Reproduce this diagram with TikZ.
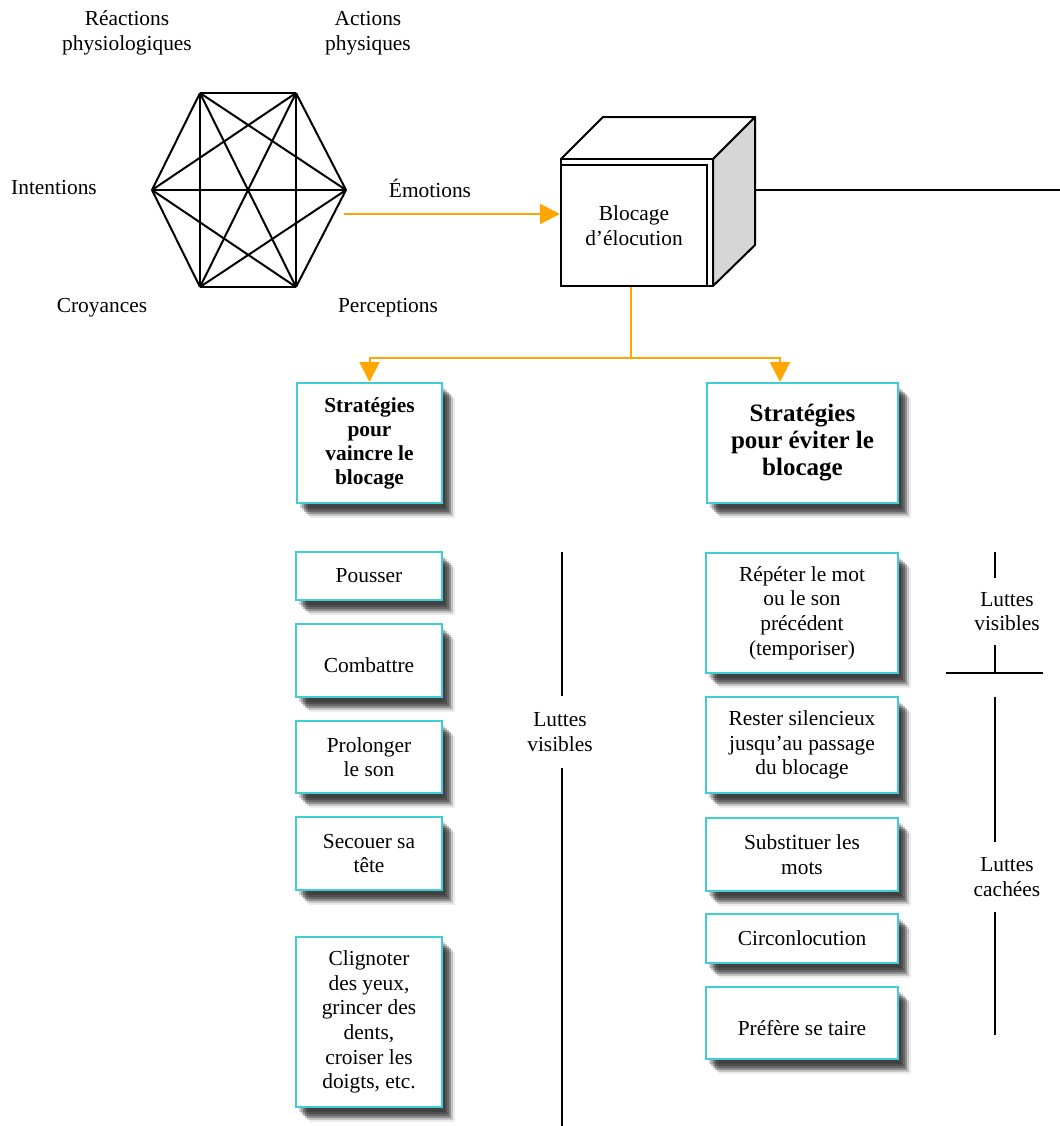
\documentclass[tikz,border=0pt]{standalone}
\usepackage{fontspec}
\setmainfont{Liberation Serif}
\usepackage{tikz}
\usetikzlibrary{positioning,arrows.meta,shadows,calc}
\definecolor{flowor}{RGB}{255,167,0}
\definecolor{boxcyan}{RGB}{62,206,212}
\tikzset{
  txt/.style={align=center, font=\fontsize{10.7}{12.3}\selectfont},
  trait/.style={line width=1pt, line join=round},
  tactic/.style={txt, draw=boxcyan, line width=1pt, fill=white, inner sep=2pt,
    drop shadow={shadow xshift=1.5pt, shadow yshift=-2.5pt, fill=black, opacity=.18},
    drop shadow={shadow xshift=2.5pt, shadow yshift=-3.5pt, fill=black, opacity=.22},
    drop shadow={shadow xshift=3.5pt, shadow yshift=-4.5pt, fill=black, opacity=.28},
    drop shadow={shadow xshift=4.5pt, shadow yshift=-5.5pt, fill=black, opacity=.28},
    drop shadow={shadow xshift=5.5pt, shadow yshift=-6.5pt, fill=black, opacity=.16},
    drop shadow={shadow xshift=6.5pt, shadow yshift=-7.5pt, fill=black, opacity=.08}},
  flow/.style={draw=flowor, line width=1pt, -{Triangle[length=10pt,width=10pt]}},
  flowline/.style={draw=flowor, line width=1pt}
}

\begin{document}
\begin{tikzpicture}[x=0.5pt,y=-0.5pt]
  \useasboundingbox (0,0) rectangle (1060,1126);
  % hexagone
  \coordinate (h1) at (200,93);
  \coordinate (h2) at (296,93);
  \coordinate (h3) at (346,190);
  \coordinate (h4) at (296,287);
  \coordinate (h5) at (200,287);
  \coordinate (h6) at (152,190);
  \foreach \i in {1,...,6}{\foreach \j in {1,...,6}{\ifnum\i<\j \draw[trait] (h\i) -- (h\j);\fi}}
  \node[txt] (reac) at (127,33) {Réactions\\physiologiques};
  \node[txt] (act) at (368,33) {Actions\\physiques};
  \node[txt] (inten) at (54,188) {Intentions};
  \node[txt] (emo) at (430,188) {Émotions};
  \node[txt] (croy) at (102,308) {Croyances};
  \node[txt] (perc) at (388,308) {Perceptions};
  % cube
  \draw[trait, fill=black!16] (713,159) -- (755,117) -- (755,245) -- (713,286) -- cycle;
  \draw[trait, fill=white] (561,159) -- (603,117) -- (755,117) -- (713,159) -- cycle;
  \draw[trait, fill=white] (561,159) rectangle (713,286);
  \node[txt, draw, line width=1pt, fill=white, inner sep=0pt, minimum width=73pt, minimum height=60.5pt] (blocage) at (634,225.5) {Blocage\\d’élocution};
  \coordinate (cubeR) at (755,190);
  \coordinate (exitR) at (1060,190);
  \draw[trait] (cubeR) -- (exitR);
  \coordinate (emoStart) at (344,214);
  \draw[flow] (emoStart) -- (emoStart -| blocage.west);
  % strategies
  \node[tactic, font=\fontsize{10.7}{12}\selectfont\bfseries, minimum width=72.5pt, minimum height=60pt] (vaincre) at (369.5,443) {Stratégies\\pour\\vaincre le\\blocage};
  \node[tactic, font=\fontsize{12.5}{13.5}\selectfont\bfseries, minimum width=95.5pt, minimum height=60pt] (eviter) at (802.5,443) {Stratégies\\pour éviter le\\blocage};
  \coordinate (split) at (631,358);
  \coordinate (turnR) at (780,358);
  \draw[flowline] (split |- blocage.south) -- (split);
  \draw[flow] (split) -| (vaincre.north);
  \draw[flow] (split) -- (turnR) -- (turnR |- eviter.north);
  % gauche
  \node[tactic, minimum width=73pt, minimum height=24pt] (pousser) at (369,576) {Pousser};
  \node[tactic, minimum width=73pt, minimum height=36.5pt] (combattre) at (369,660.5) {\mbox{}\\Combattre};
  \node[tactic, minimum width=73pt, minimum height=36pt] (prolonger) at (369,757) {Prolonger\\le son};
  \node[tactic, minimum width=73pt, minimum height=36.5pt] (secouer) at (369,853.5) {Secouer sa\\tête};
  \node[tactic, minimum width=73pt, minimum height=85pt] (cligner) at (369,1022) {Clignoter\\des yeux,\\grincer des\\dents,\\croiser les\\doigts, etc.};
  % droite
  \node[tactic, minimum width=96pt, minimum height=60pt] (repeter) at (802,613) {Répéter le mot\\ou le son\\précédent\\(temporiser)};
  \node[tactic, minimum width=96pt, minimum height=48pt] (silence) at (802,745) {Rester silencieux\\jusqu’au passage\\du blocage};
  \node[tactic, minimum width=96pt, minimum height=36.5pt] (substituer) at (802,854.5) {Substituer les\\mots};
  \node[tactic, minimum width=96pt, minimum height=24.5pt] (circon) at (802,938.5) {Circonlocution};
  \node[tactic, minimum width=96pt, minimum height=36pt] (taire) at (802,1023) {\mbox{}\\Préfère se taire};
  % luttes
  \node[txt, inner ysep=8pt] (lvG) at (560,732) {Luttes\\visibles};
  \coordinate (lvGtop) at (562,552);
  \coordinate (lvGbot) at (562,1126);
  \draw[trait] (lvGtop) -- (lvGtop |- lvG.north);
  \draw[trait] (lvG.south -| lvGbot) -- (lvGbot);
  \node[txt, inner ysep=7pt] (lvD) at (1007,611.5) {Luttes\\visibles};
  \node[txt, inner ysep=7.5pt] (lcD) at (1007,877) {Luttes\\cachées};
  \coordinate (rTop) at (995,552);
  \coordinate (rCross) at (995,673);
  \coordinate (rL) at (946,673);
  \coordinate (rR) at (1043,673);
  \coordinate (rMid) at (995,697);
  \coordinate (rEnd) at (995,1035);
  \draw[trait] (rTop) -- (rTop |- lvD.north);
  \draw[trait] (lvD.south -| rCross) -- (rCross);
  \draw[trait] (rL) -- (rR);
  \draw[trait] (rMid) -- (rMid |- lcD.north);
  \draw[trait] (lcD.south -| rEnd) -- (rEnd);
\end{tikzpicture}
\end{document}
